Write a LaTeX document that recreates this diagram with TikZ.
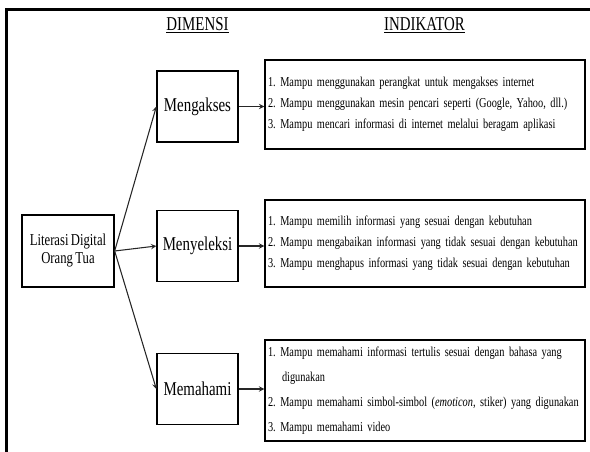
\documentclass[tikz,border=0pt]{standalone}
\usepackage{fontspec}
\setmainfont[FakeStretch=0.76,WordSpace=0.76]{Liberation Serif}
\frenchspacing
\begin{document}
\begin{tikzpicture}[x=0.75pt,y=-0.75pt,-,>=stealth]
	\tikzstyle{box}=[rectangle,draw=black,line width=1pt,minimum width=60.75pt,minimum height=53.25pt,inner sep=2pt,align=center]
	\tikzstyle{ind}=[rectangle,draw=black,line width=1pt,text width=235.5pt,inner xsep=2.25pt,inner ysep=0pt,align=left,font=\fontsize{10.2pt}{15.75pt}\selectfont]
	\tikzstyle{head}=[font=\fontsize{14.7pt}{17pt}\selectfont]
	\tikzstyle{edge}=[draw=black!85,line width=0.8pt]

	\useasboundingbox (0,0) rectangle (590,452);
	\draw[line width=2.25pt] (6.5,460) -- (6.5,10) -- (600,10);

	 \node [head] (dimensi) at (197.5,25) {\underline{DIMENSI}};
	 \node [head] (indikator) at (424.5,25) {\underline{INDIKATOR}};

	 \node [box,minimum width=69pt,minimum height=54pt,font=\fontsize{12.5pt}{13.5pt}\selectfont] (literasi) at (68,251) {Literasi Digital\\Orang Tua};
	 \node [box,head] (mengakses) at (197.5,106.5) {Mengakses};
	 \node [box,head] (menyeleksi) at (197.5,246) {Menyeleksi};
	 \node [box,head] (memahami) at (197.5,389) {Memahami};

	 \node [ind,minimum height=66.75pt] (ind1) at (425,104.5) {1. Mampu menggunakan perangkat untuk mengakses internet\\2. Mampu menggunakan mesin pencari seperti (Google, Yahoo, dll.)\\3. Mampu mencari informasi di internet melalui beragam aplikasi};
	 \node [ind,minimum height=65.25pt] (ind2) at (425,243.5) {1. Mampu memilih informasi yang sesuai dengan kebutuhan\\2. Mampu mengabaikan informasi yang tidak sesuai dengan kebutuhan\\3. Mampu menghapus informasi yang tidak sesuai dengan kebutuhan};
	 \node [ind,minimum height=75.75pt,font=\fontsize{10.2pt}{18.6pt}\selectfont] (ind3) at (425,390.5) {1. Mampu memahami informasi tertulis sesuai dengan bahasa yang\\\hspace*{10.5pt}digunakan\\2. Mampu memahami simbol-simbol (\textit{emoticon}, stiker) yang digunakan\\3. Mampu memahami video};

	 \path[edge,->] (literasi.east) -- (mengakses.west);
	 \path[edge,->] (literasi.east) -- (menyeleksi.west);
	 \path[edge,->] (literasi.east) -- (memahami.west);
	 \path[edge,->] (mengakses.east) -- (mengakses.east -| ind1.west);
	 \path[edge,->] (menyeleksi.east) -- (menyeleksi.east -| ind2.west);
	 \path[edge,->] (memahami.east) -- (memahami.east -| ind3.west);

\end{tikzpicture}
\end{document}
